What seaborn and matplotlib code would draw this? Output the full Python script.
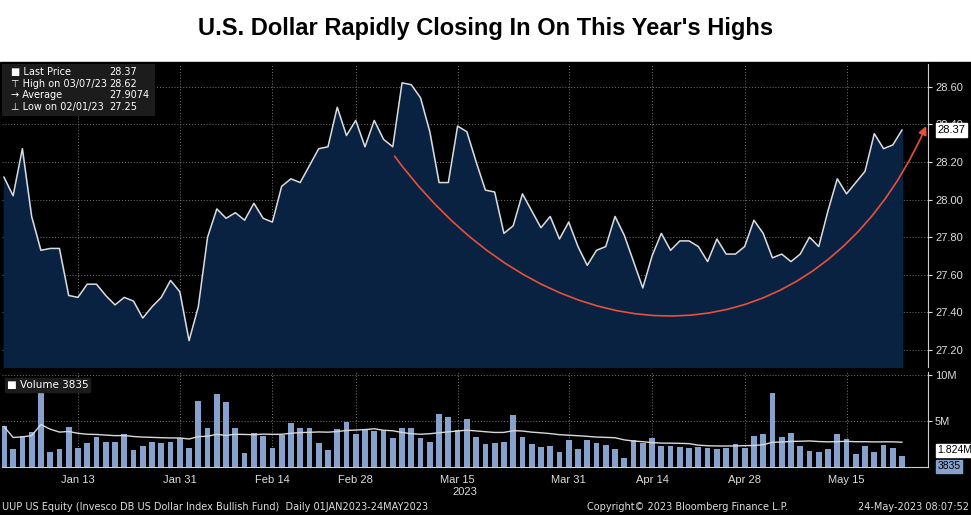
import numpy as np
import pandas as pd
import matplotlib
matplotlib.use('Agg')
import matplotlib.pyplot as plt
import seaborn as sns
from matplotlib.path import Path
from matplotlib.patches import FancyArrowPatch

# trading days Jan 3 - May 23, 2023
dates = pd.bdate_range('2023-01-03', '2023-05-23')
dates = dates[~dates.isin(pd.to_datetime(['2023-01-16', '2023-02-20', '2023-04-07']))]

price = [28.12, 28.02, 28.27, 27.91, 27.73, 27.74, 27.74, 27.49, 27.48, 27.55,
         27.55, 27.49, 27.44, 27.48, 27.46, 27.37, 27.43, 27.48, 27.57, 27.51,
         27.25, 27.43, 27.80, 27.95, 27.90, 27.93, 27.89, 27.98, 27.90, 27.88,
         28.07, 28.11, 28.09, 28.18, 28.27, 28.28, 28.49, 28.34, 28.42, 28.28,
         28.42, 28.32, 28.28, 28.62, 28.61, 28.54, 28.36, 28.09, 28.09, 28.39,
         28.36, 28.20, 28.05, 28.04, 27.82, 27.86, 28.03, 27.94, 27.85, 27.91,
         27.79, 27.88, 27.75, 27.65, 27.73, 27.75, 27.91, 27.81, 27.67, 27.53,
         27.70, 27.82, 27.73, 27.78, 27.78, 27.75, 27.67, 27.79, 27.71, 27.71,
         27.75, 27.89, 27.82, 27.69, 27.71, 27.67, 27.71, 27.80, 27.75, 27.94,
         28.11, 28.03, 28.09, 28.15, 28.35, 28.27, 28.29, 28.37]

volume_m = [4.4, 2.0, 3.4, 3.8, 9.4, 1.6, 1.9, 4.3, 2.1, 2.6,
            3.3, 2.7, 2.7, 3.6, 1.8, 2.3, 2.7, 2.6, 2.7, 3.1,
            2.1, 7.2, 4.2, 7.9, 7.0, 4.2, 1.5, 3.7, 3.4, 2.1,
            3.5, 4.8, 4.2, 4.2, 2.6, 1.8, 4.1, 4.9, 3.6, 4.1,
            3.9, 4.0, 3.1, 4.2, 4.2, 3.1, 2.7, 5.7, 5.4, 4.0,
            5.2, 3.2, 2.5, 2.6, 2.7, 5.6, 3.3, 2.5, 2.2, 2.3,
            1.6, 2.9, 1.9, 2.9, 2.6, 2.4, 2.0, 1.0, 2.9, 2.6,
            3.1, 2.3, 2.3, 2.2, 2.1, 2.2, 2.1, 2.0, 2.1, 2.5,
            2.1, 3.4, 3.6, 8.0, 3.3, 3.7, 2.3, 1.7, 1.6, 1.9,
            3.6, 3.0, 1.4, 2.3, 1.6, 2.4, 2.1, 1.2]

tick_labels = ['Jan 13', 'Jan 31', 'Feb 14', 'Feb 28', 'Mar 15',
               'Mar 31', 'Apr 14', 'Apr 28', 'May 15']
tick_dates = ['2023-01-13', '2023-01-31', '2023-02-14', '2023-02-28', '2023-03-15',
              '2023-03-31', '2023-04-14', '2023-04-28', '2023-05-15']

df = pd.DataFrame({'date': dates, 'price': price, 'vol': volume_m})
df['idx'] = np.arange(len(df))
df['vol_ma'] = df['vol'].rolling(20, min_periods=1).mean()
tick_pos = [int(np.where(dates == pd.Timestamp(d))[0][0]) for d in tick_dates]

sns.set_style('dark')
plt.rcParams['font.family'] = ['Liberation Sans', 'DejaVu Sans']

fig = plt.figure(figsize=(9.71, 5.15), dpi=100)
fig.patch.set_facecolor('white')
fig.add_artist(plt.Rectangle((0, 0), 1, 1 - 62 / 515, transform=fig.transFigure,
                             color='black', zorder=0))
fig.text(0.5, 0.945, "U.S. Dollar Rapidly Closing In On This Year's Highs",
         ha='center', va='center', fontsize=17, fontweight='bold', color='black')

W, H = 971, 515
ax = fig.add_axes([2 / W, 1 - 367 / H, (928 - 2) / W, (367 - 64) / H])
axv = fig.add_axes([2 / W, 1 - 467 / H, (928 - 2) / W, (467 - 372) / H])

xmin, xmax = -0.2, 99.8
grid_kw = dict(color='#777777', linestyle=(0, (1, 2)), linewidth=0.7)

# price panel
ax.set_facecolor('black')
ax.fill_between(df['idx'], df['price'], 27.0, color='#0a2242', zorder=1)
sns.lineplot(data=df, x='idx', y='price', ax=ax, color='#dcdcdc', linewidth=1.1, zorder=2)
ax.set_xlim(xmin, xmax)
ax.set_ylim(27.11, 28.72)
ax.yaxis.tick_right()
ax.set_yticks([27.2, 27.4, 27.6, 27.8, 28.0, 28.2, 28.4, 28.6])
ax.set_yticklabels(['27.20', '27.40', '27.60', '27.80', '28.00', '28.20', '28.40', '28.60'])
ax.set_xticks(tick_pos)
ax.set_xticklabels([])
ax.tick_params(axis='y', colors='#dddddd', labelsize=8, length=3, pad=2)
ax.tick_params(axis='x', length=0)
ax.grid(True, **grid_kw)
ax.set_xlabel('')
ax.set_ylabel('')
for s in ['top', 'left', 'bottom']:
    ax.spines[s].set_visible(False)
ax.spines['right'].set_color('#cccccc')
ax.text(1.01, 28.37, '28.37', transform=ax.get_yaxis_transform(), va='center', ha='left',
        fontsize=8, color='black', zorder=5,
        bbox=dict(boxstyle='square,pad=0.15', fc='white', ec='white'))

# red curved arrow
verts = [(42.2, 28.23), (60, 27.05), (88, 27.1), (99.6, 28.39)]
path = Path(verts, [Path.MOVETO, Path.CURVE4, Path.CURVE4, Path.CURVE4])
arrow = FancyArrowPatch(path=path, arrowstyle='-|>,head_length=5,head_width=2.5',
                        color='#e8503a', linewidth=1.2, zorder=4)
ax.add_patch(arrow)

# legend block
lg = ax.inset_axes([0.0, 0.83, 0.165, 0.17])
lg.set_facecolor('#1c1c1c')
lg.set_xticks([])
lg.set_yticks([])
for s in lg.spines.values():
    s.set_visible(False)
rows = [('\u25A0 Last Price', '28.37'), ('\u22A4 High on 03/07/23', '28.62'),
        ('\u2192 Average', '27.9074'), ('\u22A5 Low on 02/01/23', '27.25')]
for i, (a, b) in enumerate(rows):
    yy = 0.85 - i * 0.23
    lg.text(0.06, yy, a, color='white', fontsize=7, va='center', family=['DejaVu Sans'])
    lg.text(0.7, yy, b, color='white', fontsize=7, va='center', family=['DejaVu Sans'])

# volume panel
axv.set_facecolor('black')
sns.barplot(data=df, x='idx', y='vol', ax=axv, color='#86a2cc', width=0.62,
            saturation=1, native_scale=True, linewidth=0)
sns.lineplot(data=df, x='idx', y='vol_ma', ax=axv, color='#d8d8d8', linewidth=1.0)
axv.set_xlim(xmin, xmax)
axv.set_ylim(0, 10.3)
axv.yaxis.tick_right()
axv.set_yticks([5, 10])
axv.set_yticklabels(['5M', '10M'])
axv.set_xticks(tick_pos)
axv.set_xticklabels(tick_labels)
axv.tick_params(axis='y', colors='#dddddd', labelsize=8, length=3, pad=2)
axv.tick_params(axis='x', colors='#dddddd', labelsize=8, length=3, pad=3)
axv.grid(True, **grid_kw)
axv.set_xlabel('2023', color='#dddddd', fontsize=8, labelpad=1)
axv.set_ylabel('')
for s in ['top', 'left']:
    axv.spines[s].set_visible(False)
axv.spines['right'].set_color('#cccccc')
axv.spines['bottom'].set_color('#cccccc')
axv.text(1.01, 1.824, '1.824M', transform=axv.get_yaxis_transform(), va='center', ha='left',
         fontsize=7.5, color='black',
         bbox=dict(boxstyle='square,pad=0.15', fc='white', ec='white'))
axv.text(1.01, 0.1, '3835', transform=axv.get_yaxis_transform(), va='center', ha='left',
         fontsize=7.5, color='black',
         bbox=dict(boxstyle='square,pad=0.15', fc='#86a2cc', ec='#86a2cc'))
axv.text(0.005, 0.86, '\u25A0 Volume 3835', transform=axv.transAxes, fontsize=7.5,
         color='white', va='center', family=['DejaVu Sans'],
         bbox=dict(boxstyle='square,pad=0.2', fc='#1c1c1c', ec='#1c1c1c'))

# footer
fig.text(2 / W, 1 - 507 / H, 'UUP US Equity (Invesco DB US Dollar Index Bullish Fund)  Daily 01JAN2023-24MAY2023',
         color='#dddddd', fontsize=7, va='center', family=['DejaVu Sans'])
fig.text(0.605, 1 - 507 / H, 'Copyright\u00a9 2023 Bloomberg Finance L.P.',
         color='#dddddd', fontsize=7, va='center', family=['DejaVu Sans'])
fig.text(0.998, 1 - 507 / H, '24-May-2023 08:07:52', color='#dddddd', fontsize=7,
         va='center', ha='right', family=['DejaVu Sans'])

fig.savefig('out.png', dpi=100, facecolor=fig.get_facecolor())
